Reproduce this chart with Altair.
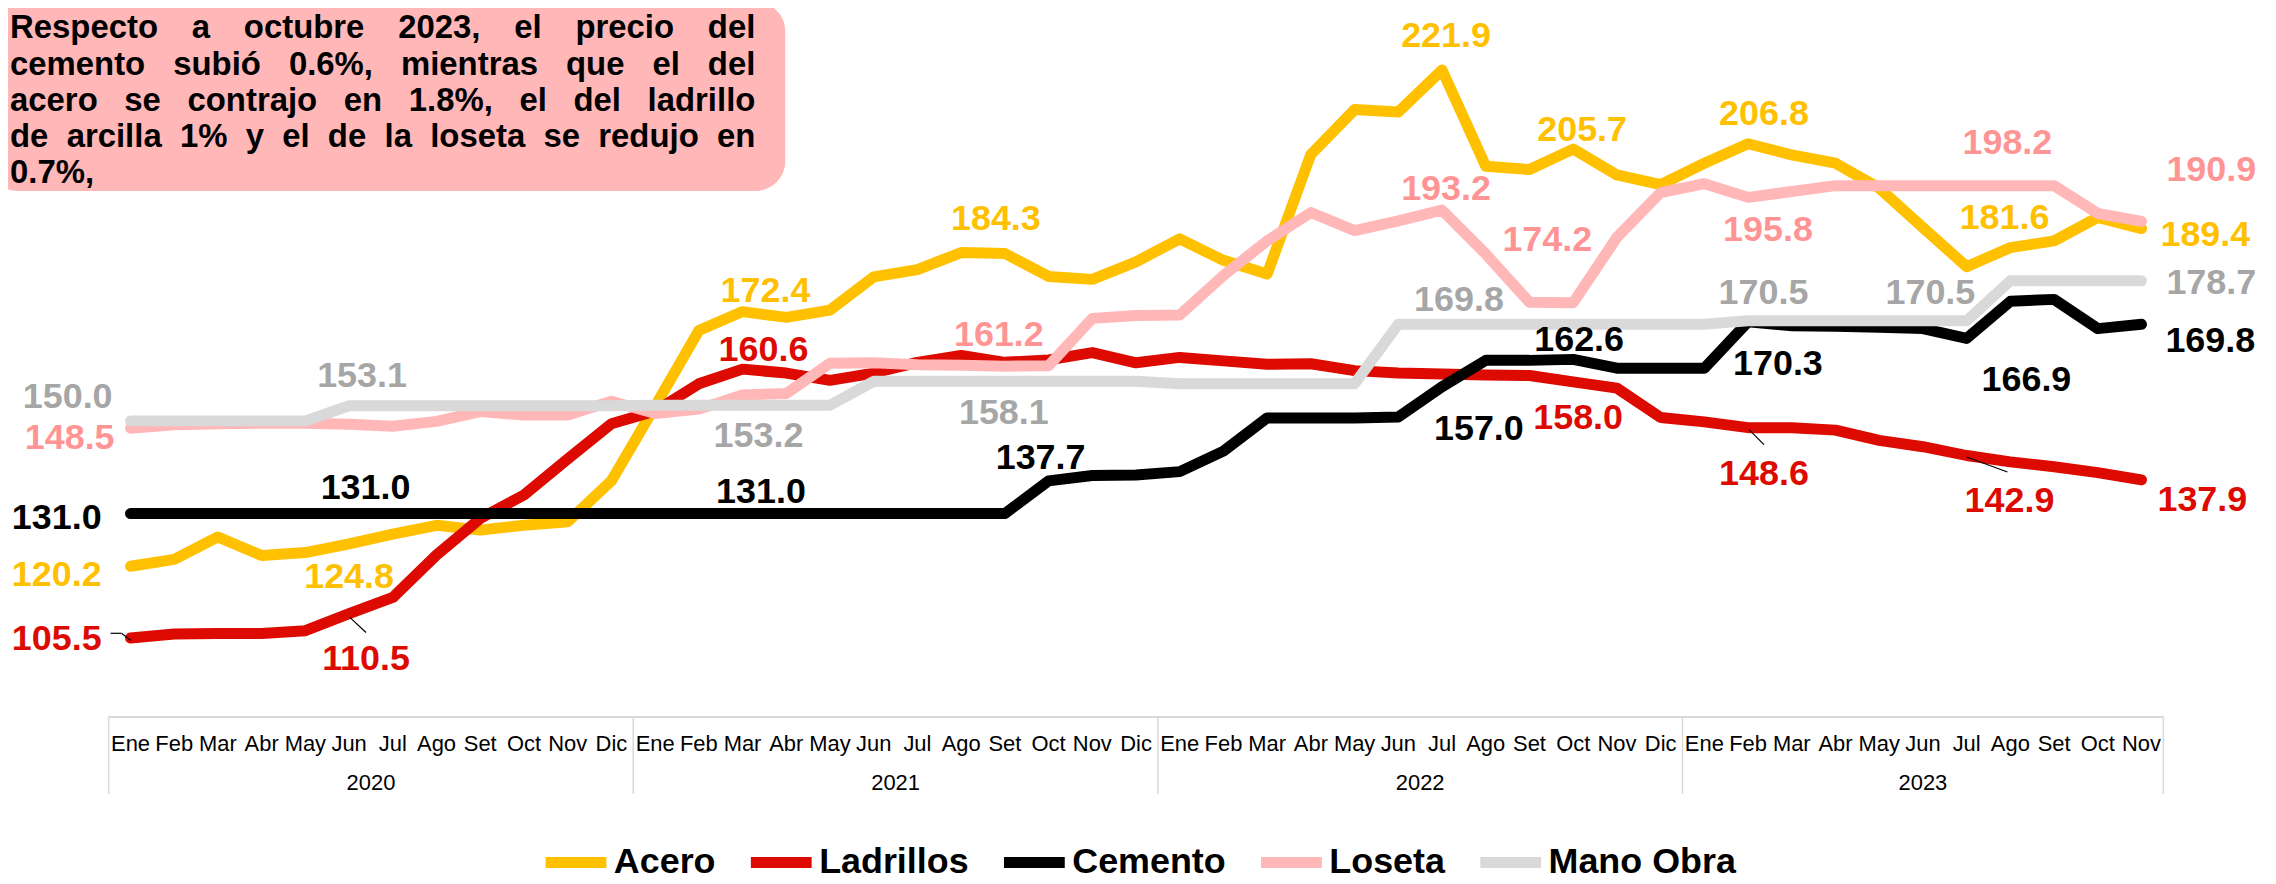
import altair as alt
import pandas as pd

# ---------------- data ----------------
months = ["Ene", "Feb", "Mar", "Abr", "May", "Jun", "Jul", "Ago", "Set", "Oct", "Nov", "Dic"]
years = ["2020", "2021", "2022", "2023"]
months_per_year = [12, 12, 12, 11]

series = ["Acero", "Ladrillos", "Cemento", "Loseta", "Mano Obra"]

acero = [120.2, 121.6, 126.2, 122.4, 123.0, 124.8, 126.8, 128.6, 127.6, 128.6, 129.3, 137.7,
         153.0, 168.5, 172.4, 171.2, 172.7, 179.5, 181.0, 184.5, 184.3, 179.6, 179.0, 182.6,
         187.3, 182.9, 180.1, 204.6, 213.8, 213.3, 221.9, 202.2, 201.5, 205.7, 200.4, 198.4,
         202.8, 206.8, 204.5, 202.8, 197.7, 189.6, 181.6, 185.5, 186.9, 191.7, 189.4]
ladrillos = [105.5, 106.3, 106.4, 106.4, 107.0, 110.5, 113.8, 122.5, 130.0, 134.8, 142.2, 149.4,
             152.0, 157.6, 160.6, 159.8, 158.3, 159.8, 162.0, 163.4, 162.0, 162.5, 164.0, 161.9,
             163.0, 162.3, 161.6, 161.7, 160.3, 159.8, 159.6, 159.4, 159.3, 158.0, 156.7, 150.7,
             149.8, 148.6, 148.6, 148.1, 146.0, 144.7, 142.9, 141.6, 140.6, 139.4, 137.9]
cemento = [131.0, 131.0, 131.0, 131.0, 131.0, 131.0, 131.0, 131.0, 131.0, 131.0, 131.0, 131.0,
           131.0, 131.0, 131.0, 131.0, 131.0, 131.0, 131.0, 131.0, 131.0, 137.7, 138.8, 138.9,
           139.6, 143.8, 150.6, 150.6, 150.6, 150.8, 157.0, 162.4, 162.4, 162.6, 160.8, 160.8,
           160.8, 170.3, 169.5, 169.4, 169.2, 168.9, 166.9, 174.5, 174.9, 168.9, 169.8]
loseta = [148.5, 149.2, 149.4, 149.5, 149.5, 149.3, 148.9, 149.9, 151.9, 151.2, 151.2, 154.0,
          151.5, 152.4, 155.3, 155.6, 161.8, 161.9, 161.5, 161.4, 161.2, 161.3, 171.0, 171.6,
          171.7, 179.8, 186.9, 192.7, 189.0, 191.0, 193.2, 184.2, 174.3, 174.2, 187.6, 196.8,
          198.6, 195.8, 197.0, 198.2, 198.2, 198.2, 198.2, 198.2, 198.2, 192.5, 190.9]
mano_obra = [150.0, 150.0, 150.0, 150.0, 150.0, 153.1, 153.1, 153.1, 153.1, 153.1, 153.1, 153.1,
             153.2, 153.2, 153.2, 153.2, 153.2, 158.1, 158.1, 158.1, 158.1, 158.1, 158.1, 158.1,
             157.6, 157.6, 157.6, 157.6, 157.6, 169.8, 169.8, 169.8, 169.8, 169.8, 169.8, 169.8,
             169.8, 170.5, 170.5, 170.5, 170.5, 170.5, 170.5, 178.7, 178.7, 178.7, 178.7]

# labelled points (series, month index)
label_series = ["Acero"] * 9 + ["Ladrillos"] * 7 + ["Cemento"] * 9 + ["Loseta"] * 7 + ["Mano Obra"] * 8
label_index = [0, 5, 14, 20, 30, 33, 37, 42, 46,
               0, 5, 14, 33, 37, 42, 46,
               0, 5, 14, 21, 30, 33, 37, 42, 46,
               0, 20, 30, 33, 37, 43, 46,
               0, 5, 14, 20, 30, 37, 41, 46]

note_lines = ["Respecto a octubre 2023, el precio del",
              "cemento subió 0.6%, mientras que el del",
              "acero se contrajo en 1.8%, el del ladrillo",
              "de arcilla 1% y el de la loseta se redujo en",
              "0.7%,"]

# ---------------- styles / placement ----------------
line_colors = ["#FFC000", "#DC0A00", "#000000", "#FFB7B8", "#D9D9D9"]
label_colors = ["#FFC000", "#DC0A00", "#000000", "#FF9494", "#A6A6A6"]
box_color = "#FFB7B8"
FONT = "Liberation Sans, Arial"

# label placement: (side, dx px, dy px)
label_place = [("L", -29, 7), ("C", 0, 31), ("C", 23, -22.5), ("C", -9, -37), ("C", 4, -36),
               ("C", 9, -21), ("C", 16, -31.5), ("C", 38, -51), ("R", 19, 4),
               ("L", -29, -1), ("C", 17, 44), ("C", 21, -21), ("C", 5, 34), ("C", 16, 45),
               ("C", 43, 43.5), ("R", 16, 18.5),
               ("L", -29, 2), ("C", 16.5, -28), ("C", 18.5, -24), ("C", -8, -25), ("C", 37, 40),
               ("C", 6, -21), ("C", 30, 40), ("C", 60, 40), ("R", 24, 15),
               ("L", -16, 8), ("C", -6, -33), ("C", 4, -23), ("C", -26, -65), ("C", 20, 31),
               ("C", -3, -45), ("R", 25, -53),
               ("L", -18, -26), ("C", 13, -31.6), ("C", 16, 29), ("C", -1, 29.5), ("C", 17, -26),
               ("C", 15.5, -29.5), ("C", 7.5, -29.5), ("R", 25, 0)]

# leader lines: (series, index, start px offset, end px offset)
leaders = [("Ladrillos", 0, (-20, -4.7), (-9, -4.7)), ("Ladrillos", 0, (-9, -4.7), (0, 2.3)),
           ("Ladrillos", 5, (1, 4), (17, 19)), ("Ladrillos", 37, (1, 2), (16, 17)),
           ("Ladrillos", 42, (0, 1.5), (41, 16.5))]

# ---------------- geometry ----------------
# month frame (page px): x 109..2171, y 8..717 for values 234.3..89.5
PW, PH = 2062, 709
Y_MIN, Y_MAX = 89.5, 234.3
N = sum(months_per_year)
px_idx = PW / N
px_val = PH / (Y_MAX - Y_MIN)
OX, OY = 101, 0          # offset of month frame inside the whole view
TW, TH = 2268, 876       # whole view


def to_idx(px):          # px relative to the month frame
    return -0.5 + px / px_idx


def to_val(py):
    return Y_MAX - py / px_val


xs = alt.Scale(domain=[to_idx(-OX), to_idx(TW - OX)], nice=False, zero=False)
ys = alt.Scale(domain=[to_val(TH - OY), to_val(-OY)], nice=False, zero=False)

values = dict(zip(series, [acero, ladrillos, cemento, loseta, mano_obra]))
rows = []
for s in series:
    for i, v in enumerate(values[s]):
        rows.append({"serie": s, "idx": i, "valor": v})
df = pd.DataFrame(rows)

lab_color = dict(zip(series, label_colors))


def X(f):
    return alt.X(f, scale=xs, axis=None)


def Y(f):
    return alt.Y(f, scale=ys, axis=None)


layers = []

# note box
box = pd.DataFrame([{"x0": to_idx(-OX - 20), "x1": to_idx(679), "y0": to_val(-8), "y1": to_val(182)}])
layers.append(alt.Chart(box).mark_rect(cornerRadius=30, color=box_color).encode(
    x=X("x0:Q"), x2=alt.X2("x1"), y=Y("y0:Q"), y2=alt.Y2("y1")))

AW = {' ': 278, '%': 889, ',': 278, '.': 278, 'R': 722, 'a': 556, 'b': 611, 'c': 556, 'd': 611,
      'e': 556, 'i': 278, 'j': 278, 'l': 278, 'm': 889, 'n': 611, 'o': 611, 'p': 611, 'q': 611,
      'r': 389, 's': 556, 't': 333, 'u': 611, 'y': 556, 'ó': 611}


def tw(s, fs):
    return sum(AW.get(c, 556) for c in s) * fs / 1000.0


NOTE_FS = 33
left_px, right_px = 10 - 109, 758 - 109
wl, wc, wr = [], [], []
for k, line in enumerate(note_lines):
    base = 25 + 36.3 * k + 12 - 8
    ws = line.split(" ")
    yv = to_val(base)
    if k < len(note_lines) - 1 and len(ws) > 1:
        widths = [tw(w, NOTE_FS) for w in ws]
        gap = (right_px - left_px - sum(widths)) / (len(ws) - 1)
        x = left_px
        for j, (w, wd) in enumerate(zip(ws, widths)):
            if j == 0:
                wl.append({"w": w, "wx": to_idx(left_px), "wy": yv})
            elif j == len(ws) - 1:
                wr.append({"w": w, "wx": to_idx(right_px), "wy": yv})
            else:
                wc.append({"w": w, "wx": to_idx(x + wd / 2), "wy": yv})
            x += wd + gap
    else:
        wl.append({"w": line, "wx": to_idx(left_px), "wy": yv})
for rows_w, al in [(wl, "left"), (wc, "center"), (wr, "right")]:
    layers.append(alt.Chart(pd.DataFrame(rows_w)).mark_text(
        font=FONT, fontWeight="bold", fontSize=NOTE_FS, align=al, baseline="alphabetic",
        color="black").encode(x=X("wx:Q"), y=Y("wy:Q"), text="w:N"))

# x axis frame
bounds = [-0.5]
for c in months_per_year:
    bounds.append(bounds[-1] + c)
layers.append(alt.Chart(pd.DataFrame({"b": bounds, "t0": [to_val(710)] * len(bounds),
                                      "t1": [to_val(787)] * len(bounds)})).mark_rule(
    color="#D9D9D9", strokeWidth=1.5).encode(x=X("b:Q"), y=Y("t0:Q"), y2=alt.Y2("t1")))
layers.append(alt.Chart(pd.DataFrame({"a": [bounds[0]], "b": [bounds[-1]], "t": [to_val(710)]})).mark_rule(
    color="#D9D9D9", strokeWidth=2).encode(x=X("a:Q"), x2=alt.X2("b"), y=Y("t:Q")))

mrows, yrows = [], []
start = 0
for y, c in zip(years, months_per_year):
    for m in range(c):
        mrows.append({"idx": start + m, "m": months[m], "my": to_val(737)})
    yrows.append({"idx": start + (c - 1) / 2.0, "yr": y, "yy": to_val(776)})
    start += c
layers.append(alt.Chart(pd.DataFrame(mrows)).mark_text(font=FONT, fontSize=22, color="black",
                                                      baseline="middle").encode(
    x=X("idx:Q"), y=Y("my:Q"), text="m:N"))
layers.append(alt.Chart(pd.DataFrame(yrows)).mark_text(font=FONT, fontSize=22, color="black",
                                                      baseline="middle").encode(
    x=X("idx:Q"), y=Y("yy:Q"), text="yr:N"))

# lines (single layer, series drawn in data order) + legend
layers.append(alt.Chart(df).mark_line(
    strokeWidth=11, strokeCap="round", strokeJoin="round").encode(
    x=X("idx:Q"), y=Y("valor:Q"),
    color=alt.Color("serie:N", scale=alt.Scale(domain=series, range=line_colors),
                    legend=alt.Legend(
                        title=None, orient="none", legendX=534, legendY=820,
                        direction="horizontal", symbolType="stroke", symbolSize=3721,
                        symbolStrokeWidth=11, labelFont=FONT, labelFontWeight="bold",
                        labelFontSize=36, labelColor="black", labelOffset=2,
                        columnPadding=12, padding=0, labelLimit=400))))

# data labels
lab_rows = {"L": [], "C": [], "R": []}
for s, i, (side, dx, dy) in zip(label_series, label_index, label_place):
    v = values[s][i]
    px = (i + 0.5) * px_idx + dx
    py = (Y_MAX - v) * px_val + dy + 2
    lab_rows[side].append({"serie": s, "lc": lab_color[s], "t": "%.1f" % v,
                           "lx": to_idx(px), "ly": to_val(py)})
for side, al in [("L", "right"), ("C", "center"), ("R", "left")]:
    layers.append(alt.Chart(pd.DataFrame(lab_rows[side])).mark_text(
        font=FONT, fontWeight="bold", fontSize=36, align=al, baseline="middle").encode(
        x=X("lx:Q"), y=Y("ly:Q"), text="t:N", fill=alt.Fill("lc:N", scale=None)))

# leader lines
ld = []
for s, i, p0, p1 in leaders:
    v = values[s][i]
    bx, by = (i + 0.5) * px_idx, (Y_MAX - v) * px_val
    ld.append({"x0": to_idx(bx + p0[0]), "y0": to_val(by + p0[1]),
               "x1": to_idx(bx + p1[0]), "y1": to_val(by + p1[1])})
layers.append(alt.Chart(pd.DataFrame(ld)).mark_rule(color="black", strokeWidth=1.2).encode(
    x=X("x0:Q"), y=Y("y0:Q"), x2=alt.X2("x1"), y2=alt.Y2("y1")))

chart = alt.layer(*layers).properties(
    width=TW, height=TH, autosize=alt.AutoSizeParams(type="none"), padding=0,
    background="white",
).configure_view(strokeWidth=0)

chart.save("out.html", embed_options={"renderer": "svg", "actions": False})
